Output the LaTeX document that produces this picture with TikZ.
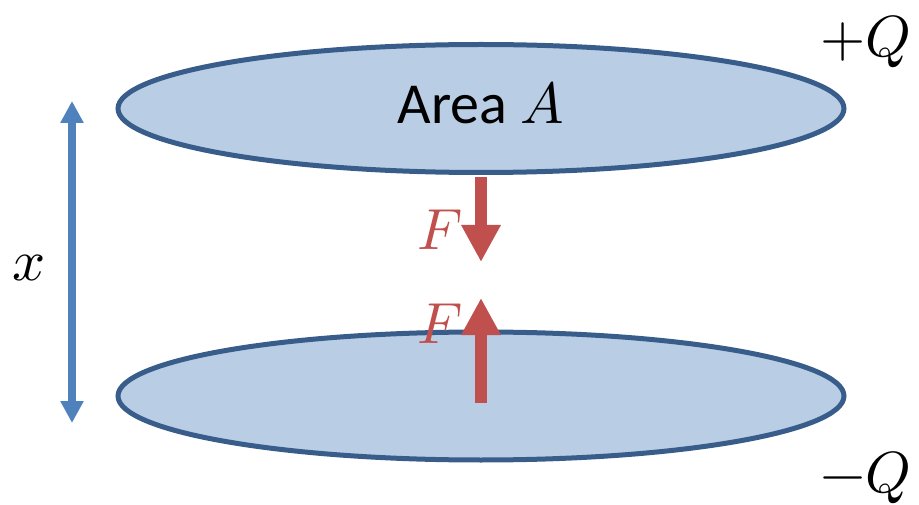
\documentclass[tikz,border=0pt]{standalone}
\usepackage{fontspec}
\usepackage{unicode-math}
\setmainfont{Carlito}
\setmathfont{Latin Modern Math}
\usetikzlibrary{shapes.geometric,arrows.meta}
\definecolor{platefill}{HTML}{B9CDE5}
\definecolor{plateedge}{HTML}{385D8A}
\definecolor{sepblue}{HTML}{4F81BD}
\definecolor{forcered}{HTML}{C0504D}
\tikzset{
  plate/.style={ellipse, draw=plateedge, fill=platefill, line width=5pt,
    minimum width=726pt, minimum height=128pt, inner sep=0pt},
  bigtext/.style={anchor=base, inner sep=0pt, font=\fontsize{58}{70}\selectfont},
  forcelabel/.style={bigtext, text=forcered},
  forcearrow/.style={draw=forcered, line width=12pt,
    -{Triangle[width=37pt,length=37pt]}},
  separrow/.style={draw=sepblue, line width=8pt,
    {Triangle[width=22pt,length=22pt]}-{Triangle[width=22pt,length=22pt]}}
}
\begin{document}
\begin{tikzpicture}[x=1pt,y=-1pt]
\useasboundingbox (0,0) rectangle (919,505);
\node[plate] (topplate) at (481,108.5) {};
\node[plate] (botplate) at (481,396) {};
\node[bigtext] (area) at (481,124) {Area $A$};
\node[bigtext] (plusq) at (866,57) {$+Q$};
\node[bigtext] (minusq) at (866,492) {$-Q$};
\node[bigtext] (xlabel) at (29,280) {$x$};
\coordinate (xtop) at (72,101);
\coordinate (xbot) at (72,423);
\draw[separrow] (xtop) -- (xbot);
\coordinate (f1s) at (481,177);
\coordinate (f1e) at (481,262);
\coordinate (f2s) at (481,403);
\coordinate (f2e) at (481,298);
\draw[forcearrow] (f1s) -- (f1e);
\draw[forcearrow] (f2s) -- (f2e);
\node[forcelabel] (flabel1) at (440,250) {$F$};
\node[forcelabel] (flabel2) at (440,343) {$F$};
\end{tikzpicture}
\end{document}
